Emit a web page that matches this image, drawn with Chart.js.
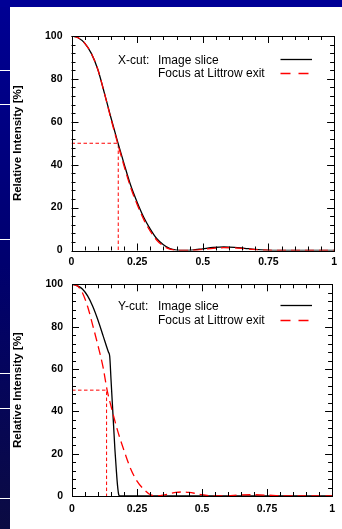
<!DOCTYPE html>
<html><head><meta charset="utf-8">
<script src="https://cdn.jsdelivr.net/npm/chart.js@4.4.1/dist/chart.umd.min.js"></script>
<style>
html,body{margin:0;padding:0;width:342px;height:529px;overflow:hidden;}
body{position:relative;background:linear-gradient(to bottom,#000094 0%,#00006e 50%,#0b0b42 100%);}
#topbar{position:absolute;left:0;top:0;width:342px;height:7px;background:#000096;}
#panel{position:absolute;left:10px;top:7px;width:332px;height:522px;background:#fff;}
.sep{position:absolute;left:0;width:10px;height:1px;background:#fff;}
.wrap{position:absolute;left:0;width:332px;}
canvas{display:block;}
</style></head><body>
<div id="topbar"></div>
<div class="sep" style="top:70px"></div>
<div class="sep" style="top:104px"></div>
<div class="sep" style="top:239px"></div>
<div class="sep" style="top:373px"></div>
<div class="sep" style="top:408px"></div>
<div class="sep" style="top:498px"></div>
<div id="panel">
  <div class="wrap" style="top:0;height:262px"><canvas id="c1" width="332" height="262"></canvas></div>
  <div class="wrap" style="top:262px;height:260px"><canvas id="c2" width="332" height="260"></canvas></div>
</div>
<script>
// ---------- DATA ----------
const xTickLabels = ['0', '0.25', '0.5', '0.75', '1'];
const yTickLabels = ['0', '20', '40', '60', '80', '100'];
const seriesNames = ['Image slice', 'Focus at Littrow exit'];
const cutNames = ['X-cut:', 'Y-cut:'];

// Top chart (X-cut)
const xcutX      = [0, 0.025, 0.05, 0.075, 0.1, 0.125, 0.15, 0.175, 0.2, 0.225, 0.25, 0.275, 0.3, 0.325, 0.35, 0.375, 0.4, 0.43, 0.46, 0.5, 0.54, 0.58, 0.62, 0.66, 0.7, 0.74, 0.8, 0.9, 1];
const xcutImage  = [100, 99.2, 96.7, 92, 84.5, 73.5, 62, 51, 40.5, 30.5, 22.5, 15.5, 10, 5.5, 2.7, 0.9, 0.2, 0, 0.2, 0.8, 1.4, 1.7, 1.5, 1.0, 0.5, 0.2, 0.1, 0.1, 0.1];
const xcutFocus  = [100, 99.2, 96.7, 92, 84.5, 73.5, 61.5, 50.3, 39.5, 29.5, 21.5, 14.5, 9, 4.8, 2.1, 0.6, 0.1, 0, 0.1, 0.5, 1.0, 1.3, 1.2, 0.8, 0.4, 0.15, 0.05, 0.05, 0.05];
const xcutHalfX  = [0, 0.178, 0.178];
const xcutHalfY  = [50, 50, 0];

// Bottom chart (Y-cut)
const ycutImageX = [0, 0.02, 0.04, 0.06, 0.08, 0.1, 0.12, 0.14, 0.145, 0.15, 0.155, 0.16, 0.165, 0.17, 0.175, 0.18, 0.185, 0.25, 0.5, 0.75, 1];
const ycutImage  = [100, 99.3, 97.8, 94.5, 89.5, 83, 75.5, 68, 66, 55, 44, 33, 22, 13, 5, 0.5, 0, 0, 0, 0, 0];
const ycutFocusX = [0, 0.02, 0.04, 0.06, 0.08, 0.1, 0.12, 0.135, 0.15, 0.175, 0.2, 0.225, 0.25, 0.275, 0.3, 0.325, 0.35, 0.375, 0.4, 0.425, 0.45, 0.475, 0.5, 0.525, 0.55, 0.6, 0.65, 0.7, 0.75, 0.8, 0.85, 1];
const ycutFocus  = [100, 99.3, 96, 89.5, 80.5, 71, 60.5, 50, 42.5, 31, 21.5, 13, 7, 3.3, 0.7, 0.1, 0.4, 1.1, 1.7, 1.9, 1.7, 1.2, 0.6, 0.2, 0, 0.2, 0.5, 0.6, 0.4, 0.1, 0, 0];
const ycutHalfX  = [0, 0.133, 0.133];
const ycutHalfY  = [50, 50, 0];

// ---------- RENDER ----------
const FONT = "'Liberation Sans', Arial, Helvetica, sans-serif";
Chart.defaults.font.family = FONT;
Chart.defaults.color = '#000';

const pts = (xs, ys) => xs.map((x, i) => ({x, y: ys[i]}));

const framePlugin = {
  id: 'frame',
  afterDatasetsDraw(chart, args, o) {
    const {ctx, chartArea: a, scales: {x, y}} = chart;
    ctx.save();
    ctx.strokeStyle = '#000';
    ctx.lineWidth = 1;
    ctx.setLineDash([]);
    ctx.beginPath();
    for (let i = 0; i <= 20; i++) {
      const px = Math.round(x.getPixelForValue(i * 0.05)) + 0.5;
      const len = (i % 5 === 0) ? 7 : 4;
      ctx.moveTo(px, a.bottom); ctx.lineTo(px, a.bottom - len);
      ctx.moveTo(px, a.top); ctx.lineTo(px, a.top + len);
    }
    for (let i = 0; i <= 25; i++) {
      const py = Math.round(y.getPixelForValue(i * 4)) + 0.5;
      const len = (i % 5 === 0) ? 7 : 4;
      ctx.moveTo(a.left, py); ctx.lineTo(a.left + len, py);
      ctx.moveTo(a.right, py); ctx.lineTo(a.right - len, py);
    }
    ctx.stroke();
    ctx.strokeRect(Math.round(a.left) + 0.5, Math.round(a.top) + 0.5,
                   Math.round(a.right) - Math.round(a.left), Math.round(a.bottom) - Math.round(a.top));
    // legend
    ctx.fillStyle = '#000';
    ctx.font = "12px " + FONT;
    ctx.textBaseline = 'middle';
    ctx.textAlign = 'left';
    ctx.fillText(o.cut, o.lx, o.ly1);
    ctx.fillText(o.names[0], o.lx2, o.ly1);
    ctx.fillText(o.names[1], o.lx2, o.ly2);
    ctx.lineWidth = 1.3;
    ctx.strokeStyle = '#000000';
    ctx.beginPath(); ctx.moveTo(o.sx1, o.sy1); ctx.lineTo(o.sx2, o.sy1); ctx.stroke();
    ctx.strokeStyle = '#ff0000';
    ctx.setLineDash([10, 8]);
    ctx.beginPath(); ctx.moveTo(o.sx1, o.sy2); ctx.lineTo(o.sx3, o.sy2); ctx.stroke();
    ctx.restore();
  }
};

function makeChart(id, d) {
  return new Chart(document.getElementById(id), {
    type: 'scatter',
    data: {
      datasets: [
        {label: seriesNames[1], data: pts(d.fx, d.fy), showLine: true, borderColor: '#ff0000', borderWidth: 1.3,
         borderDash: [9, 5], pointRadius: 0, cubicInterpolationMode: 'monotone', order: 0},
        {label: seriesNames[0], data: pts(d.ix, d.iy), showLine: true, borderColor: '#000000', borderWidth: 1.3,
         pointRadius: 0, cubicInterpolationMode: 'monotone', order: 1},
        {label: 'half', data: pts(d.hx, d.hy), showLine: true, borderColor: '#ff0000', borderWidth: 1,
         borderDash: [3.5, 2.5], pointRadius: 0, tension: 0, order: 2}
      ]
    },
    options: {
      responsive: false,
      animation: false,
      devicePixelRatio: 1,
      layout: {padding: {top: d.padTop, right: 2.5, left: 0, bottom: 0}},
      plugins: {
        legend: {display: false},
        tooltip: {enabled: false},
        frame: d.legend
      },
      scales: {
        x: {
          type: 'linear', min: 0, max: 1,
          grid: {display: false, drawTicks: false},
          border: {display: false},
          ticks: {stepSize: 0.25, padding: d.xPad, maxRotation: 0, autoSkip: false,
                  font: {size: 10.5, weight: 'bold'}, color: '#000',
                  callback: (v) => xTickLabels[Math.round(v / 0.25)]},
          afterFit: (s) => { s.height = d.xH; }
        },
        y: {
          type: 'linear', min: 0, max: 100,
          grid: {display: false, drawTicks: false},
          border: {display: false},
          ticks: {stepSize: 20, padding: 9, font: {size: 10.5, weight: 'bold'}, color: '#000',
                  callback: (v) => yTickLabels[Math.round(v / 20)]},
          title: {display: true, text: 'Relative Intensity [%]', color: '#000',
                  font: {size: 11.5, weight: 'bold'}, padding: {top: 1, bottom: 0}},
          afterFit: (s) => { s.width = d.yW; }
        }
      }
    },
    plugins: [framePlugin]
  });
}

makeChart('c1', {
  fx: xcutX, fy: xcutFocus, ix: xcutX, iy: xcutImage, hx: xcutHalfX, hy: xcutHalfY,
  padTop: 29, xH: 18.5, xPad: 5, yW: 61.5,
  legend: {cut: cutNames[0], names: seriesNames, lx: 108, lx2: 148, ly1: 54, ly2: 67,
           sx1: 270.5, sx2: 302, sx3: 298.5, sy1: 52.5, sy2: 66.5}
});
makeChart('c2', {
  fx: ycutFocusX, fy: ycutFocus, ix: ycutImageX, iy: ycutImage, hx: ycutHalfX, hy: ycutHalfY,
  padTop: 15, xH: 33, xPad: 7, yW: 62,
  legend: {cut: cutNames[1], names: seriesNames, lx: 108, lx2: 148, ly1: 37.8, ly2: 51.7,
           sx1: 270.5, sx2: 302, sx3: 298.5, sy1: 36.5, sy2: 51.5}
});
</script>
</body></html>
